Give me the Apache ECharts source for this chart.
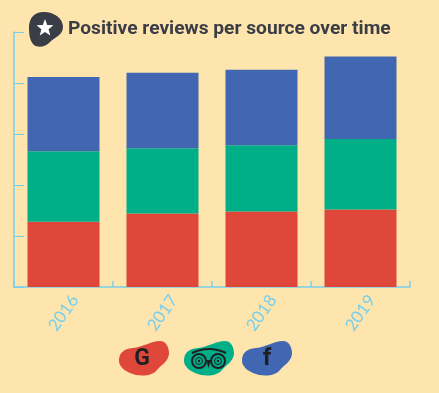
<!DOCTYPE html>
<html>
<head>
<meta charset="utf-8">
<style>
  html, body { margin: 0; padding: 0; background: #fde5ad; }
  #main { width: 439px; height: 393px; }
</style>
<script src="https://cdn.jsdelivr.net/npm/echarts@6/dist/echarts.min.js"></script>
</head>
<body>
<div id="main"></div>
<script>
const years = ['2016', '2017', '2018', '2019'];
const google = [64, 72, 74, 76];
const tripadvisor = [69, 64, 65, 69];
const facebook = [73, 74, 74, 81];

const lineBlue = '#78cfec';
const dark = '#1f2024';

// hand traced blob behind the legend and title icons
const blob = 'M0 20 C0 12 4 8 14 7 C24 6 32 0 41 0 C47 0 50 6 50 13 C49 21 42 24 38 29 C33 35 24 35 17 34 C9 32 0 27 0 20 Z';
const titleBlob = 'M29 28 C29 19 33 12 44 12 C55 12 63 19 63 27 C63 35 54 38 50 42 C46 47 38 48 34 45 C30 41 29 35 29 28 Z';
const star = 'M45 19 L47.2 25 L53.5 25.3 L48.6 29.3 L50.3 35.5 L45 32 L39.7 35.5 L41.4 29.3 L36.5 25.3 L42.8 25 Z';

echarts.graphic.registerShape('blob', echarts.graphic.extendPath(blob, {}));
echarts.graphic.registerShape('titleBlob', echarts.graphic.extendPath(titleBlob, {}));
echarts.graphic.registerShape('star5', echarts.graphic.extendPath(star, {}));

const chart = echarts.init(document.getElementById('main'), null, { renderer: 'canvas' });
chart.setOption({
  backgroundColor: '#fde5ad',
  animation: false,
  title: {
    text: 'Positive reviews per source over time',
    left: 63,
    top: 15,
    textStyle: { fontFamily: 'Roboto', fontWeight: 'bold', fontSize: 19.2, color: '#3a3d45' }
  },
  grid: { left: 14, right: 29, top: 32, bottom: 106, containLabel: false },
  xAxis: {
    type: 'category',
    data: years,
    axisLine: { lineStyle: { color: lineBlue, width: 1.5 } },
    axisTick: { show: true, inside: true, length: 6, alignWithLabel: false, lineStyle: { color: lineBlue, width: 1.5 } },
    axisLabel: {
      rotate: 55,
      align: 'center',
      verticalAlign: 'middle',
      margin: 26,
      color: lineBlue,
      fontFamily: 'Lato',
      fontSize: 17
    }
  },
  yAxis: {
    type: 'value',
    min: 0,
    max: 250,
    interval: 50,
    axisLine: { show: true, lineStyle: { color: lineBlue, width: 1.5 } },
    axisTick: { show: true, inside: true, length: 10, lineStyle: { color: lineBlue, width: 1 } },
    axisLabel: { show: false },
    splitLine: { show: false }
  },
  series: [
    { name: 'Google', type: 'bar', stack: 'r', barWidth: 72, data: google, itemStyle: { color: '#de4739' } },
    { name: 'TripAdvisor', type: 'bar', stack: 'r', barWidth: 72, data: tripadvisor, itemStyle: { color: '#00ae88' } },
    { name: 'Facebook', type: 'bar', stack: 'r', barWidth: 72, data: facebook, itemStyle: { color: '#4267b2' } }
  ],
  graphic: [
    { type: 'titleBlob', style: { fill: '#3a3d45' } },
    { type: 'star5', style: { fill: '#fff' } },

    { type: 'blob', x: 119, y: 341, style: { fill: '#de4739' } },
    { type: 'text', x: 142, y: 359, style: { text: 'G', fill: dark, font: 'bold 23px Roboto', textAlign: 'center', textVerticalAlign: 'middle' } },

    { type: 'blob', x: 184, y: 341, style: { fill: '#00ae88' } },
    { type: 'bezierCurve', shape: { x1: 192, y1: 353, x2: 226, y2: 353, cpx1: 209, cpy1: 345 }, style: { stroke: dark, lineWidth: 2, fill: 'none' } },
    { type: 'circle', shape: { cx: 199, cy: 361, r: 7 }, style: { stroke: dark, lineWidth: 2, fill: 'none' } },
    { type: 'circle', shape: { cx: 218, cy: 361, r: 7 }, style: { stroke: dark, lineWidth: 2, fill: 'none' } },
    { type: 'circle', shape: { cx: 199, cy: 361, r: 3.5 }, style: { stroke: dark, lineWidth: 1, fill: 'none' } },
    { type: 'circle', shape: { cx: 218, cy: 361, r: 3.5 }, style: { stroke: dark, lineWidth: 1, fill: 'none' } },
    { type: 'circle', shape: { cx: 199, cy: 361, r: 1.2 }, style: { fill: dark } },
    { type: 'circle', shape: { cx: 218, cy: 361, r: 1.2 }, style: { fill: dark } },
    { type: 'polygon', shape: { points: [[206, 360], [211, 360], [208.5, 368]] }, style: { fill: dark } },

    { type: 'blob', x: 242, y: 341, style: { fill: '#4267b2' } },
    { type: 'text', x: 267, y: 359, style: { text: 'f', fill: dark, font: 'bold 24px Roboto', textAlign: 'center', textVerticalAlign: 'middle' } }
  ]
});

window.addEventListener('resize', function() {
  chart.resize();
});
</script>
</body>
</html>
